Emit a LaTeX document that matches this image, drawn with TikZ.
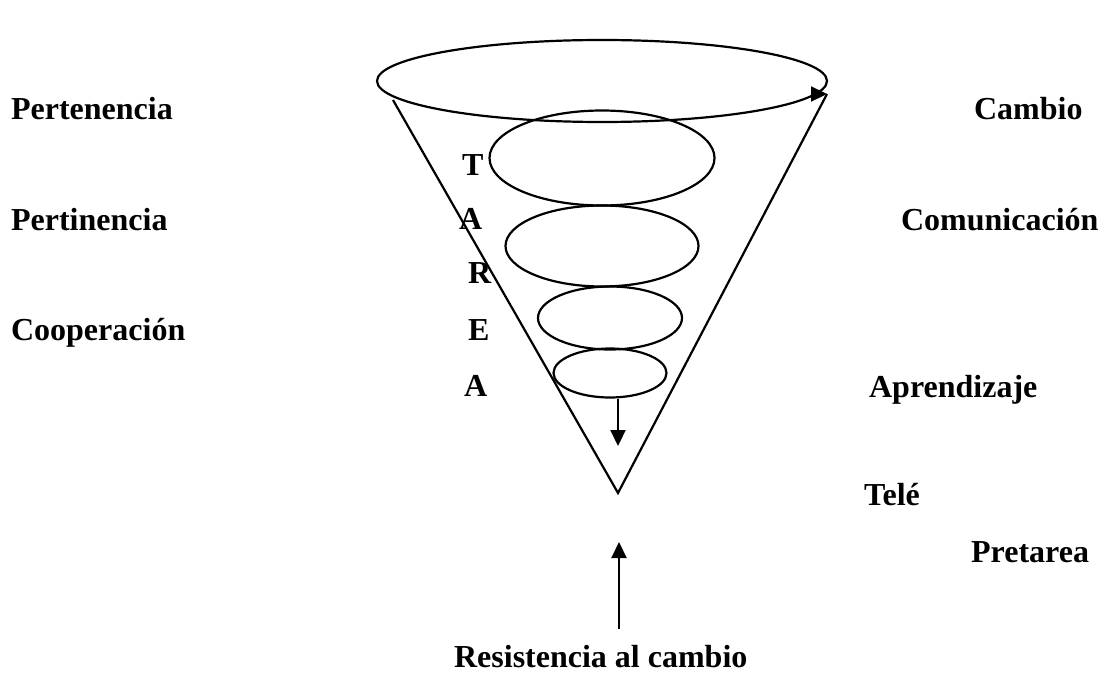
\documentclass[tikz,border=0pt]{standalone}
\usepackage{fontspec}
\setmainfont{Liberation Serif}
\usetikzlibrary{shapes.geometric,arrows.meta}

\begin{document}
\begin{tikzpicture}[x=1pt,y=-1pt,line width=2.2pt,
lbl/.style={anchor=base west,inner sep=0pt,font=\bfseries\fontsize{32}{38}\selectfont},
ring/.style={draw,ellipse,inner sep=0pt},
tip/.style={-{Triangle[length=16pt,width=15pt]}}
]
\useasboundingbox (0,0) rectangle (1099,674);
\node (top) [ring,minimum width=450,minimum height=82] at (602,81) {};
\node (e1) [ring,minimum width=225,minimum height=95] at (602,158) {};
\node (e2) [ring,minimum width=193,minimum height=81] at (602,246) {};
\node (e3) [ring,minimum width=144,minimum height=63] at (610,318) {};
\node (e4) [ring,minimum width=113,minimum height=49] at (610,373) {};
\coordinate (ltop) at (393,100);
\coordinate (apex) at (618,493);
\coordinate (rtop) at (827,94);
\coordinate (sink) at (618,446);
\coordinate (rbase) at (619,629);
\coordinate (rtip) at (619,542);
\draw (ltop) -- (apex) -- (rtop);
\draw[tip] ([xshift=-16pt]rtop) -- (rtop);
\draw[tip] (e4.south -| sink) -- (sink);
\draw[tip] (rbase) -- (rtip);
\node (pert) [lbl] at (10,120) {Pertenencia};
\node (pein) [lbl] at (10,230) {Pertinencia};
\node (coop) [lbl] at (10,340) {Cooperación};
\node (camb) [lbl] at (973,120) {Cambio};
\node (comu) [lbl] at (900,230) {Comunicación};
\node (apre) [lbl] at (868,397) {Aprendizaje};
\node (tele) [lbl] at (863,505) {Telé};
\node (pret) [lbl] at (970,562) {Pretarea};
\node (resi) [lbl] at (453,667) {Resistencia al cambio};
\node (t1) [lbl] at (461,175) {T};
\node (t2) [lbl] at (458,229) {A};
\node (t3) [lbl] at (467,283) {R};
\node (t4) [lbl] at (467,340) {E};
\node (t5) [lbl] at (463,396) {A};
\end{tikzpicture}
\end{document}
